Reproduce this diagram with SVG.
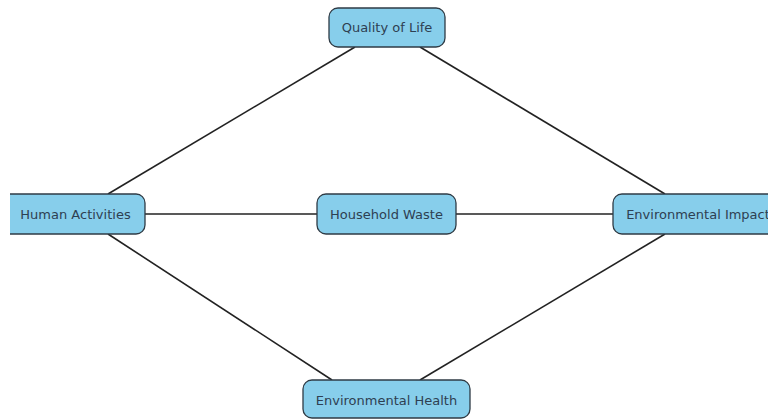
<svg xmlns="http://www.w3.org/2000/svg" width="768" height="420" viewBox="0 0 768 420">
<style>
.box{fill:#87CEEB;stroke:#2f3b45;stroke-width:1.3}
.lbl{font-family:"DejaVu Sans",sans-serif;font-size:13px;fill:#2e4052;text-anchor:middle;dominant-baseline:central}
.edge{stroke:#222;stroke-width:1.6;fill:none}
</style>
<defs>
<clipPath id="clipL"><rect x="10" y="0" width="758" height="420"/></clipPath>
</defs>
<rect width="768" height="420" fill="#fff"/>
<g id="connectors">
<line class="edge" x1="108" y1="194" x2="355" y2="47"/>
<line class="edge" x1="420" y1="47" x2="665" y2="194"/>
<line class="edge" x1="145" y1="214" x2="317" y2="214"/>
<line class="edge" x1="456" y1="214" x2="613" y2="214"/>
<line class="edge" x1="108" y1="234" x2="332" y2="380"/>
<line class="edge" x1="420" y1="380" x2="665" y2="234"/>
</g>
<g id="quality-of-life">
<rect class="box" x="329" y="8" width="116" height="39" rx="9"/>
<text class="lbl" x="387" y="27">Quality of Life</text>
</g>
<g id="human-activities">
<rect class="box" x="-10" y="194" width="155" height="40" rx="9" clip-path="url(#clipL)"/>
<text class="lbl" x="75.5" y="214">Human Activities</text>
</g>
<g id="household-waste">
<rect class="box" x="317" y="194" width="139" height="40" rx="9"/>
<text class="lbl" x="386.5" y="214">Household Waste</text>
</g>
<g id="environmental-impact">
<rect class="box" x="613" y="194" width="175" height="40" rx="9"/>
<text class="lbl" x="698" y="214">Environmental Impact</text>
</g>
<g id="environmental-health">
<rect class="box" x="303" y="380" width="167" height="38" rx="9"/>
<text class="lbl" x="386.5" y="400">Environmental Health</text>
</g>
</svg>
